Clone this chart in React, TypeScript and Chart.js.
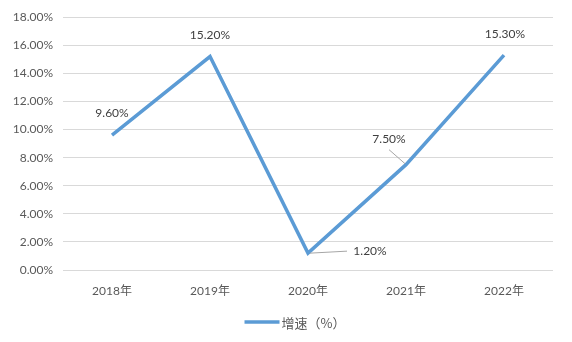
import React, { useEffect, useRef } from "react";
import { Chart, registerables } from "chart.js";

Chart.register(...registerables);

const categories = ["2018年", "2019年", "2020年", "2021年", "2022年"];
const growthValues = [9.6, 15.2, 1.2, 7.5, 15.3];
const seriesLabel = "增速（%）";
const yTickValues = [0, 2, 4, 6, 8, 10, 12, 14, 16, 18];

const LINE_COLOR = "#5B9BD5";
const TEXT_COLOR = "#595959";
const LABEL_COLOR = "#404040";
const GRID_COLOR = "#d9d9d9";
const FONT = "Lato, 'Noto Sans CJK SC', sans-serif";
const CJK_FONT = "'Noto Sans CJK SC', sans-serif";

// label placement offsets relative to the data point (style only)
const labelStyles = [
  { dx: 0, dy: -22, leader: false },
  { dx: 0, dy: -21, leader: false },
  { dx: 62, dy: -2, leader: true },
  { dx: -17, dy: -26, leader: true },
  { dx: 1, dy: -21, leader: false },
];

const labelPlugin = {
  id: "valueLabels",
  afterDatasetsDraw(chart: any) {
    const ctx = chart.ctx;
    const meta = chart.getDatasetMeta(0);
    ctx.save();
    ctx.font = `12px ${FONT}`;
    ctx.textAlign = "center";
    ctx.textBaseline = "middle";
    meta.data.forEach((pt: any, i: number) => {
      const st = labelStyles[i];
      const text = growthValues[i].toFixed(2) + "%";
      const tx = pt.x + st.dx;
      const ty = pt.y + st.dy;
      if (st.leader) {
        ctx.strokeStyle = "#a6a6a6";
        ctx.lineWidth = 1;
        ctx.beginPath();
        if (st.dx > 0) {
          ctx.moveTo(pt.x + 2, pt.y);
          ctx.lineTo(tx - 23, ty);
        } else {
          ctx.moveTo(pt.x - 1, pt.y - 1);
          ctx.lineTo(tx, ty + 11);
        }
        ctx.stroke();
      }
      ctx.fillStyle = LABEL_COLOR;
      ctx.fillText(text, tx, ty);
    });
    ctx.restore();
  },
};

const legendPlugin = {
  id: "customLegend",
  afterDraw(chart: any) {
    const ctx = chart.ctx;
    ctx.save();
    ctx.font = `13px ${CJK_FONT}`;
    const label = chart.data.datasets[0].label;
    const tw = ctx.measureText(label).width;
    const lineW = 35;
    const gap = 2;
    const total = lineW + gap + tw;
    const cx = 295;
    const y = 322;
    const x0 = cx - total / 2;
    ctx.strokeStyle = LINE_COLOR;
    ctx.lineWidth = 3.5;
    ctx.beginPath();
    ctx.moveTo(x0, y);
    ctx.lineTo(x0 + lineW, y);
    ctx.stroke();
    ctx.fillStyle = TEXT_COLOR;
    ctx.textAlign = "left";
    ctx.textBaseline = "middle";
    ctx.fillText(label, x0 + lineW + gap, y + 1);
    ctx.restore();
  },
};

export default function App() {
  const ref = useRef<HTMLCanvasElement | null>(null);
  useEffect(() => {
    document.body.style.margin = "0";
    const chart = new Chart(ref.current as HTMLCanvasElement, {
      type: "line",
      data: {
        labels: categories,
        datasets: [
          {
            label: seriesLabel,
            data: growthValues,
            borderColor: LINE_COLOR,
            backgroundColor: LINE_COLOR,
            borderWidth: 3.5,
            pointRadius: 0,
            tension: 0,
            fill: false,
          },
        ],
      },
      options: {
        animation: false,
        responsive: false,
        layout: { padding: { top: 14, right: 19, left: 0, bottom: 0 } },
        plugins: { legend: { display: false }, tooltip: { enabled: false } },
        scales: {
          x: {
            offset: true,
            grid: { display: false },
            border: { display: false },
            ticks: { color: TEXT_COLOR, font: { size: 12, family: FONT }, padding: 6 },
            afterFit(scale: any) {
              scale.height = 72;
            },
          },
          y: {
            min: 0,
            max: 18,
            afterBuildTicks(scale: any) {
              scale.ticks = yTickValues.map((v) => ({ value: v }));
            },
            ticks: {
              color: TEXT_COLOR,
              font: { size: 12, family: FONT },
              padding: 10,
              callback: (v: any) => Number(v).toFixed(2) + "%",
            },
            grid: { color: GRID_COLOR, drawTicks: false, lineWidth: 1 },
            border: { display: false },
            afterFit(scale: any) {
              scale.width = 63;
            },
          },
        },
      },
      plugins: [labelPlugin, legendPlugin],
    });
    return () => chart.destroy();
  }, []);
  return (
    <div style={{ position: "absolute", left: 0, top: 0, width: 572, height: 342, background: "#fff" }}>
      <canvas ref={ref} width={572} height={342} />
    </div>
  );
}
